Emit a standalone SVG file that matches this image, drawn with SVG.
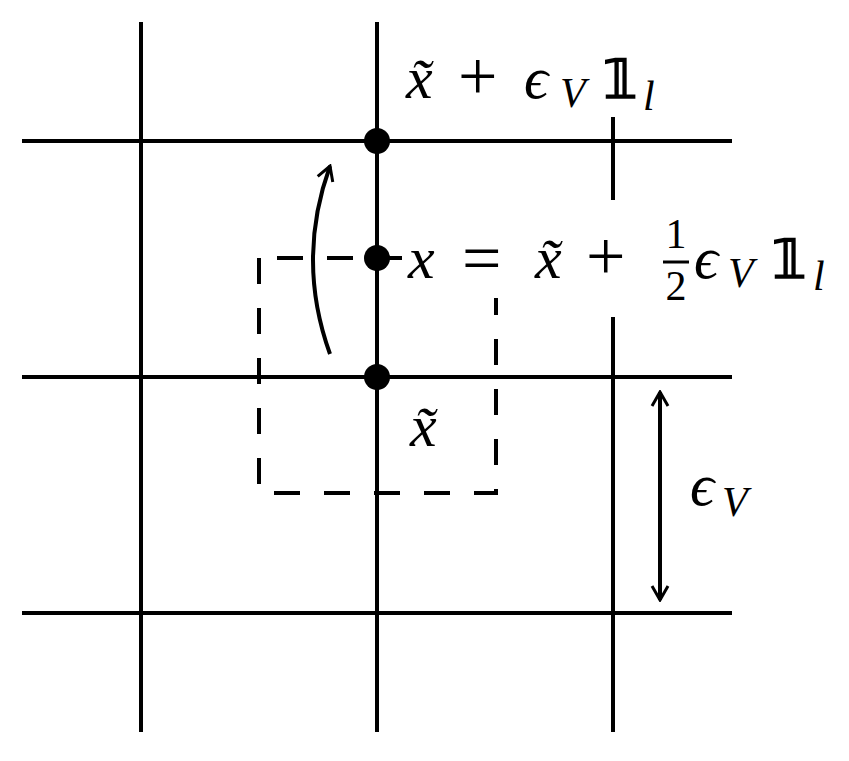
<svg xmlns="http://www.w3.org/2000/svg" width="849" height="761" viewBox="0 0 849 761">
<style>
.l{stroke:#000;stroke-width:4;fill:none}
.d{stroke:#000;stroke-width:4;fill:none;stroke-dasharray:26,24}
text{font-family:'Liberation Serif','Times New Roman','DejaVu Serif',serif;fill:#000}
.t{font-style:italic;font-size:60px}
.s{font-style:italic;font-size:42px}
.u{font-size:70px}
.b{font-size:54px;font-weight:bold}
.f{font-size:42px}
</style>
<defs>
<marker id="h" viewBox="0 0 20 20" refX="18" refY="10" markerWidth="20" markerHeight="20" orient="auto-start-reverse" markerUnits="userSpaceOnUse">
<path d="M4,2 L18,10 L4,18" fill="none" stroke="#000" stroke-width="3"/>
</marker>
</defs>
<rect width="849" height="761" fill="#fff"/>
<g id="grid">
<path class="l" d="M141,22V732M377,22V732M613,22V732M22,141H732M22,377H732M22,613H732"/>
</g>
<g id="cell">
<path class="d" d="M259,258V493H496V258H259"/>
</g>
<g id="connectors">
<path class="l" d="M330,354 Q296,260 330,166" marker-end="url(#h)" stroke-width="3.5"/>
<path class="l" d="M660,392V600" marker-start="url(#h)" marker-end="url(#h)" stroke-width="3.5"/>
</g>
<g id="dots">
<circle cx="377" cy="141" r="13"/>
<circle cx="377" cy="377" r="13"/>
</g>
<g id="label-top">
<rect x="398" y="22" width="290" height="95" fill="#fff"/>
<text class="t" x="406" y="98">x̃</text>
<text class="u" x="458" y="100">+</text>
<text class="t" x="524" y="98">ϵ</text>
<text class="s" x="560" y="107">V</text>
<text class="b" x="603" y="98">𝟙</text>
<text class="s" x="643" y="110">l</text>
</g>
<g id="label-mid">
<rect x="402" y="200" width="447" height="98" fill="#fff"/>
<rect x="560" y="296" width="289" height="21" fill="#fff"/>
<circle cx="377" cy="258" r="13"/>
<text class="t" x="408" y="278">x</text>
<text class="u" x="462" y="282">=</text>
<text class="t" x="535" y="278">x̃</text>
<text class="u" x="586" y="280">+</text>
<text class="f" x="676" y="248" text-anchor="middle">1</text>
<line x1="663" y1="262" x2="689" y2="262" stroke="#000" stroke-width="3"/>
<text class="f" x="676" y="300" text-anchor="middle">2</text>
<text class="t" x="694" y="278">ϵ</text>
<text class="s" x="728" y="287">V</text>
<text class="b" x="772" y="278">𝟙</text>
<text class="s" x="813" y="290">l</text>
</g>
<g id="label-xt">
<text class="t" x="410" y="446">x̃</text>
</g>
<g id="label-eps">
<text class="t" x="690" y="505">ϵ</text>
<text class="s" x="722" y="516">V</text>
</g>
</svg>
